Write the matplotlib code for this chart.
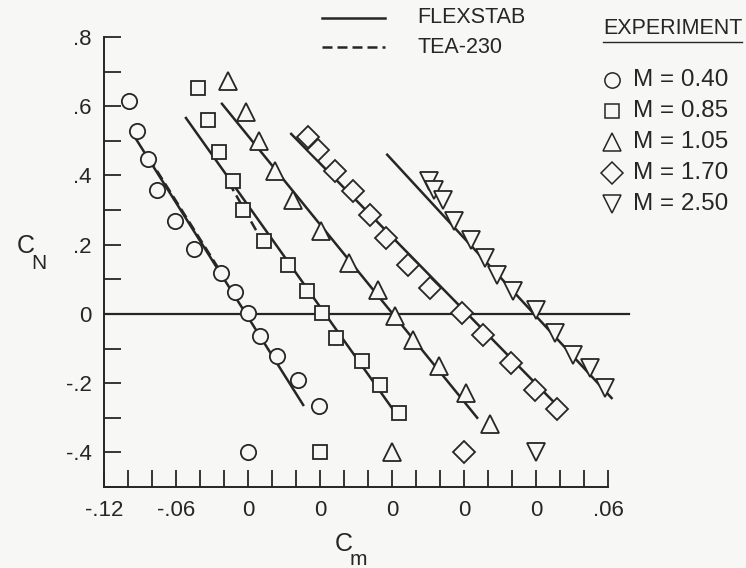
import numpy as np
import matplotlib
matplotlib.use("Agg")
import matplotlib.pyplot as plt

plt.rcParams['font.family'] = ['Liberation Sans', 'DejaVu Sans']

INK = '#262626'
BG = '#f7f7f5'

# experiment, C_m (each Mach number on its own shifted 0) and C_N
mach_labels = ['M = 0.40', 'M = 0.85', 'M = 1.05', 'M = 1.70', 'M = 2.50']
markers = ['o', 's', '^', 'D', 'v']
marker_sizes = [11, 10.5, 12.5, 11, 12.5]
offsets = [0.0, 0.06, 0.12, 0.18, 0.24]

cm_040 = [-0.099, -0.0925, -0.0835, -0.076, -0.061, -0.045, -0.0225, -0.011, 0.0, 0.010, 0.024, 0.042, 0.059]
cn_040 = [0.616, 0.529, 0.448, 0.358, 0.269, 0.188, 0.118, 0.064, 0.003, -0.064, -0.121, -0.19, -0.265]

cm_085 = [-0.1017, -0.0933, -0.084, -0.0725, -0.064, -0.0467, -0.027, -0.011, 0.0017, 0.0133, 0.035, 0.05, 0.066]
cn_085 = [0.653, 0.561, 0.468, 0.384, 0.301, 0.211, 0.142, 0.066, 0.003, -0.069, -0.136, -0.205, -0.286]

cm_105 = [-0.1367, -0.1217, -0.1108, -0.0975, -0.0825, -0.0592, -0.036, -0.012, 0.0025, 0.0175, 0.039, 0.0617, 0.0817]
cn_105 = [0.673, 0.584, 0.5, 0.413, 0.33, 0.24, 0.147, 0.069, -0.006, -0.075, -0.15, -0.228, -0.318]

cm_170 = [-0.13, -0.1217, -0.1075, -0.0925, -0.0783, -0.065, -0.047, -0.028, -0.002, 0.016, 0.039, 0.059, 0.0775]
cn_170 = [0.512, 0.474, 0.413, 0.355, 0.286, 0.22, 0.142, 0.075, 0.003, -0.061, -0.142, -0.22, -0.275]

cm_250 = [-0.0892, -0.085, -0.0775, -0.0683, -0.054, -0.0425, -0.0325, -0.019, 0.0, 0.016, 0.031, 0.045, 0.0575]
cn_250 = [0.384, 0.358, 0.33, 0.269, 0.214, 0.162, 0.113, 0.066, 0.012, -0.055, -0.118, -0.156, -0.214]

exp_cm = [cm_040, cm_085, cm_105, cm_170, cm_250]
exp_cn = [cn_040, cn_085, cn_105, cn_170, cn_250]

# FLEXSTAB (solid) end points
flex_cm = [[-0.094, 0.046], [-0.1117, 0.061], [-0.1417, 0.071], [-0.144, 0.082], [-0.124, 0.063]]
flex_cn = [[0.509, -0.263], [0.566, -0.277], [0.607, -0.30], [0.52, -0.28], [0.46, -0.243]]

# TEA-230 (dashed), only for the two subsonic cases
tea_cm = [[-0.0825, -0.0225], [-0.076, -0.053]]
tea_cn = [[0.45, 0.12], [0.38, 0.24]]

fig = plt.figure(figsize=(7.46, 5.68), dpi=100, facecolor=BG)
ax = fig.add_axes([104 / 746, 1 - 487 / 568, 528 / 746, 450 / 568])
ax.set_facecolor(BG)
ax.set_xlim(-0.12, 0.32)
ax.set_ylim(-0.5, 0.8)

for i in range(5):
    off = offsets[i]
    ax.plot(np.array(flex_cm[i]) + off, flex_cn[i], '-', color=INK, lw=1.8, zorder=2)
    ax.plot(np.array(exp_cm[i]) + off, exp_cn[i], linestyle='none', marker=markers[i],
            ms=marker_sizes[i], mfc=BG, mec=INK, mew=1.3, zorder=3)
    # origin marker for this C_m scale
    ax.plot(off, -0.4, linestyle='none', marker=markers[i], ms=marker_sizes[i],
            mfc=BG, mec=INK, mew=1.3, zorder=3)
for i in range(2):
    ax.plot(np.array(tea_cm[i]) + offsets[i], tea_cn[i], '--', color=INK, lw=1.8,
            dashes=(4, 2), zorder=2)

ax.plot([-0.12, 0.3175], [0, 0], color=INK, lw=1.6, zorder=1)

for s in ['top', 'right']:
    ax.spines[s].set_visible(False)
ax.spines['left'].set_bounds(-0.5, 0.8)
ax.spines['bottom'].set_bounds(-0.12, 0.30)
for s in ['left', 'bottom']:
    ax.spines[s].set_color(INK)
    ax.spines[s].set_linewidth(1.4)

ax.set_yticks(np.arange(-0.5, 0.81, 0.1))
ax.set_yticklabels(['', '-.4', '', '-.2', '', '0', '', '.2', '', '.4', '', '.6', '', '.8'])
ax.set_xticks(np.arange(-0.12, 0.301, 0.02))
xlab = ['' for _ in range(22)]
xlab[0], xlab[3] = '-.12', '-.06'
for k in [6, 9, 12, 15, 18]:
    xlab[k] = '0'
xlab[21] = '.06'
ax.set_xticklabels(xlab)
ax.tick_params(direction='in', length=12, width=1.3, color=INK, labelcolor=INK,
               labelsize=16, pad=9)

# axis titles, letter + subscript
ax.text(-0.1925, 0.195, 'C', fontsize=18, color=INK, ha='left', va='center', clip_on=False)
ax.text(-0.1805, 0.145, 'N', fontsize=15, color=INK, ha='left', va='center', clip_on=False)
ax.text(0.0725, -0.665, 'C', fontsize=18, color=INK, ha='left', va='center', clip_on=False)
ax.text(0.0845, -0.71, 'm', fontsize=15, color=INK, ha='left', va='center', clip_on=False)

# legends drawn by hand
ax.plot([0.062, 0.114], [0.855, 0.855], '-', color=INK, lw=1.8, clip_on=False)
ax.plot([0.062, 0.114], [0.77, 0.77], '--', color=INK, lw=1.8, dashes=(4, 2), clip_on=False)
ax.text(0.141, 0.855, 'FLEXSTAB', fontsize=15.5, color=INK, va='center', clip_on=False)
ax.text(0.141, 0.77, 'TEA-230', fontsize=15.5, color=INK, va='center', clip_on=False)
ax.text(0.296, 0.825, 'EXPERIMENT', fontsize=15.5, color=INK, va='center', clip_on=False)
ax.plot([0.296, 0.412], [0.785, 0.785], '-', color=INK, lw=1.0, clip_on=False)

row_y = [0.676, 0.587, 0.497, 0.407, 0.317]
for i in range(5):
    ax.plot(0.303, row_y[i], linestyle='none', marker=markers[i], ms=marker_sizes[i],
            mfc=BG, mec=INK, mew=1.1, clip_on=False)
    ax.text(0.321, row_y[i], mach_labels[i], fontsize=17.5, color=INK, va='center', clip_on=False)

fig.savefig('out.png', dpi=100, facecolor=fig.get_facecolor())
